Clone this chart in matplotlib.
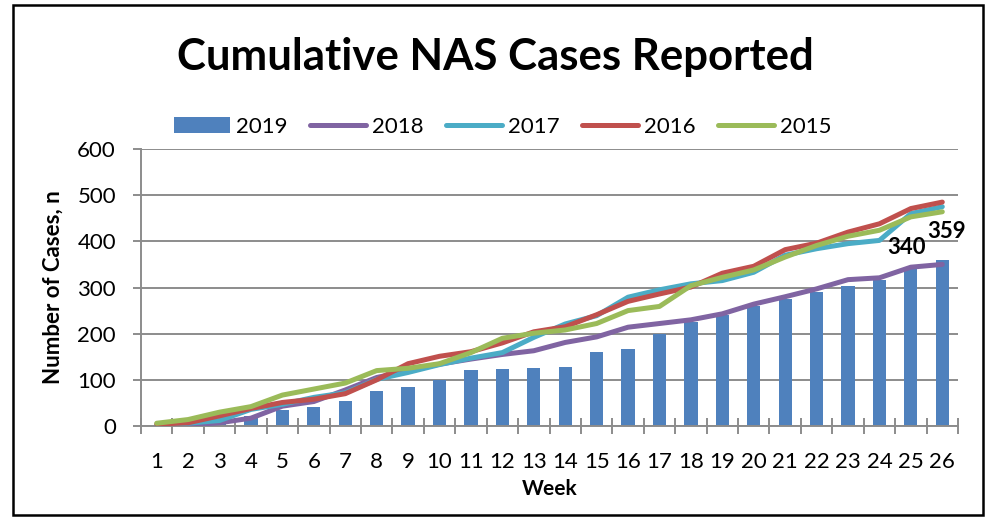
import numpy as np
import matplotlib
matplotlib.use("Agg")
import matplotlib.pyplot as plt
from matplotlib.patches import Rectangle
from matplotlib.ticker import FixedLocator

plt.rcParams['font.family'] = ['Lato', 'DejaVu Sans']

# Datos (casos acumulados por semana)
weeks = list(range(1, 27))
cases_2019 = [0, 3, 10, 22, 35, 41, 54, 75, 84, 100, 122, 123, 126, 128, 160, 166,
              199, 225, 240, 261, 275, 290, 304, 317, 340, 359]
cases_2018 = [0, 2, 7, 17, 43, 53, 78, 105, 120, 134, 145, 155, 163, 181, 193, 214,
              222, 230, 243, 264, 280, 297, 317, 321, 344, 350]
cases_2017 = [0, 6, 12, 36, 47, 62, 72, 101, 116, 133, 147, 159, 192, 221, 239, 279,
              295, 308, 315, 333, 370, 384, 395, 402, 460, 475]
cases_2016 = [4, 7, 22, 38, 51, 58, 70, 100, 135, 151, 161, 180, 204, 215, 241, 270,
              286, 301, 331, 346, 382, 396, 420, 438, 471, 485]
cases_2015 = [6, 14, 30, 42, 67, 80, 93, 120, 125, 135, 159, 190, 201, 208, 222, 250,
              259, 304, 322, 338, 366, 391, 411, 424, 453, 464]
labelled_weeks = [25, 26]

colors = {
    '2019': '#4F81BD',
    '2018': '#8064A2',
    '2017': '#4BACC6',
    '2016': '#C0504D',
    '2015': '#9BBB59',
}
grid_color = '#8C8C8C'

fig = plt.figure(figsize=(9.9, 5.17), dpi=100)
ax = fig.add_axes([141 / 990, 1 - 426 / 517, (958 - 141) / 990, (426 - 149) / 517])

x = np.array(weeks)
ax.bar(x, cases_2019, width=0.42, color=colors['2019'], label='2019', zorder=2)
lines = [('2018', cases_2018), ('2017', cases_2017), ('2016', cases_2016), ('2015', cases_2015)]
for name, vals in lines:
    ax.plot(x, vals, color=colors[name], linewidth=3.6, solid_capstyle='round',
            label=name, zorder=3)

# Etiquetas de datos en las últimas semanas
for w in labelled_weeks:
    v = cases_2019[w - 1]
    off = (-3, 8) if w == 25 else (3, 13)
    ax.annotate(f"{v}", (w, v), xytext=off, textcoords='offset points',
                ha='center', va='bottom', fontsize=16, fontweight='bold', zorder=4)

ax.set_xlim(0.5, 26.5)
ax.set_ylim(0, 600)
ax.set_yticks(range(0, 601, 100))
ax.set_xticks(x)
ax.set_xticklabels([str(w) for w in weeks])
ax.xaxis.set_minor_locator(FixedLocator(np.arange(0.5, 27, 1)))

ax.grid(axis='y', color=grid_color, linewidth=1.4, zorder=0)
ax.set_axisbelow(True)
for side in ['top', 'right']:
    ax.spines[side].set_visible(False)
for side in ['left', 'bottom']:
    ax.spines[side].set_color(grid_color)
    ax.spines[side].set_linewidth(1.4)

ax.tick_params(axis='x', which='major', length=0, pad=19, labelsize=16)
ax.tick_params(axis='x', which='minor', length=11, direction='inout', color=grid_color, width=1.4)
ax.tick_params(axis='y', length=6, color=grid_color, width=1.4, pad=12, labelsize=16)

ax.set_xlabel('Week', fontsize=15, fontweight='bold', labelpad=5)
ax.set_ylabel('Number of Cases, n', fontsize=16, fontweight='bold', labelpad=10)

fig.text(0.5, 1 - 57 / 517, 'Cumulative NAS Cases Reported', ha='center', va='center',
         fontsize=31.5, fontweight='bold')

handles, labels = ax.get_legend_handles_labels()
order = [labels.index(n) for n in ['2019', '2018', '2017', '2016', '2015']]
fig.legend([handles[i] for i in order], [labels[i] for i in order],
           loc='center', bbox_to_anchor=(503 / 990, 1 - 127 / 517), ncol=5,
           frameon=False, fontsize=16, handlelength=2.5, handleheight=0.7,
           handletextpad=0.3, columnspacing=1.0)

# Marco exterior
fig.patches.append(Rectangle((13 / 990, 1 - 515 / 517), (983 - 13) / 990, (515 - 5) / 517,
                             transform=fig.transFigure, fill=False, edgecolor='black',
                             linewidth=1.8))

plt.savefig('out.png', dpi=100)
plt.close()
